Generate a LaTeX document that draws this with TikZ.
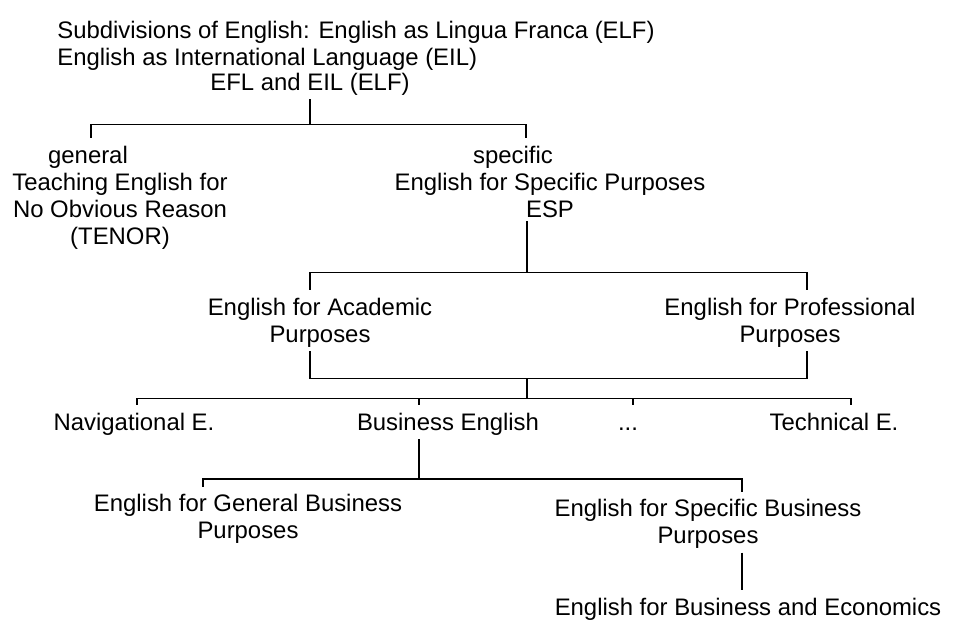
\documentclass[tikz,border=0pt]{standalone}
\usepackage{fontspec}
\setmainfont{Liberation Sans}
\usetikzlibrary{calc}
\tikzset{
  lbl/.style={align=center, inner sep=2pt, font=\fontsize{13.6}{15.4}\selectfont},
  row/.style={lbl, text height=10pt, text depth=3pt},
  branch/.style={line width=0.9pt, shorten >=2pt},
}
\begin{document}
\begin{tikzpicture}[x=0.02cm, y=-0.02cm]
\useasboundingbox (0,0) rectangle (957,626);
\node[lbl, align=left, anchor=west] (head) at (53.5,46) {Subdivisions of English: English as Lingua Franca (ELF)\\English as International Language (EIL)};
\node[lbl] (root) at (310,84) {EFL and EIL (ELF)};
\node[lbl] (gen) at (88,157) {general};
\node[lbl] (tenor) at (120,211) {Teaching English for\\No Obvious Reason\\(TENOR)};
\node[lbl] (spec) at (513,157) {specific};
\node[lbl] (esp) at (550,195) {English for Specific Purposes\\ESP};
\node[lbl] (eap) at (320,322.5) {English for Academic\\Purposes};
\node[lbl] (epp) at (790,322.5) {English for Professional\\Purposes};
\node[row] (nav) at (134,424) {Navigational E.};
\node[row] (be) at (448,424) {Business English};
\node[row] (dots) at (628,424) {...};
\node[row] (tech) at (834,424) {Technical E.};
\node[lbl] (egbp) at (248,519) {English for General Business\\Purposes};
\node[lbl] (esbp) at (708,524) {English for Specific Business\\Purposes};
\node[lbl] (ebe) at (748,609) {English for Business and Economics};

\draw[branch] (root.south) -- ++(0,25.5) coordinate (j1) -| ($(gen.north)+(3,0)$);
\draw[branch] (j1) -| ($(spec.north)+(13,0)$);
\draw[branch] ($(esp.south)+(-23,0)$) -- ++(0,51.5) coordinate (j2) -| ($(eap.north)+(-10,0)$);
\draw[branch] (j2) -| ($(epp.north)+(17,0)$);
\draw[line width=0.9pt] ($(eap.south)+(-10,0)$) -- ++(0,27.5) coordinate (j3) -| ($(epp.south)+(17,0)$);
\draw[line width=0.9pt] (j3 -| j2) -- ++(0,20) coordinate (j4);
\foreach \n/\dx in {nav/3, be/-29, dots/5, tech/17}
  \draw[branch] (j4) -| ($(\n.north)+(\dx,0)$);
\draw[branch] ($(be.south)+(-29,0)$) -- ++(0,39.5) coordinate (j5) -| ($(egbp.north)+(-45,0)$);
\draw[branch] (j5) -| ($(esbp.north)+(34,0)$);
\draw[branch] ($(esbp.south)+(34,0)$) -- ($(ebe.north)+(-6,0)$);
\end{tikzpicture}
\end{document}
